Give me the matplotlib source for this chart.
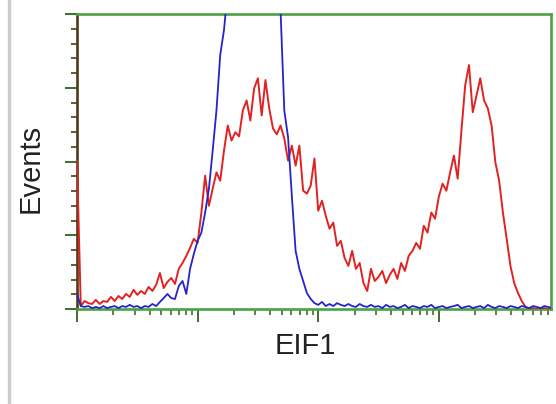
"""Flow cytometry overlay histogram: EIF1 stained (red) vs control (blue)."""
import matplotlib
matplotlib.use("Agg")
import matplotlib.pyplot as plt  # noqa: E402
import numpy as np  # noqa: E402
from matplotlib.lines import Line2D  # noqa: E402
from matplotlib.ticker import MultipleLocator, LogLocator, NullFormatter  # noqa: E402

# histogram bins: 8 channels each, 256 channels per decade
CHANNELS_PER_DECADE = 256
BIN_WIDTH = 8

red_counts = [
    50.3, 1.0, 2.7, 2.0, 1.7, 3.1, 1.7, 2.7, 2.4, 4.1,
    2.7, 4.4, 3.4, 5.1, 4.1, 6.5, 4.8, 6.1, 5.1, 7.5,
    6.1, 8.2, 12.2, 7.1, 9.2, 10.5, 8.5, 13.6, 15.6, 18.0,
    20.7, 23.8, 22.4, 32.7, 45.2, 35.0, 40.8, 46.3, 43.5, 53.7,
    62.2, 57.1, 59.9, 58.5, 67.3, 70.7, 63.9, 74.8, 78.2, 65.6,
    77.6, 68.0, 61.2, 59.2, 62.2, 57.8, 50.3, 55.4, 48.6, 55.4,
    40.1, 39.1, 41.8, 51.0, 33.3, 36.7, 31.6, 27.2, 29.3, 21.4,
    23.1, 17.3, 14.6, 19.7, 13.6, 15.6, 8.8, 6.1, 13.6, 9.5,
    10.9, 12.9, 8.8, 11.6, 13.6, 10.2, 15.6, 12.9, 18.0, 19.7,
    22.4, 20.4, 28.2, 25.9, 32.7, 30.6, 38.1, 42.5, 40.1, 46.3,
    52.0, 44.2, 60.5, 75.9, 82.7, 66.7, 72.4, 78.2, 70.7, 68.0,
    62.2, 49.7, 43.5, 32.7, 23.8, 14.6, 8.8, 5.4, 2.7, 0.7,
    0.0, 0.3, 0.0, 0.0, 0.3, 0.0, 0.0,
]

blue_counts = [
    5.1, 1.0, 0.7, 1.0, 0.3, 0.7, 0.3, 1.0, 0.3, 0.7,
    1.0, 0.3, 1.0, 0.7, 1.4, 0.7, 1.0, 0.3, 1.0, 0.7,
    1.7, 1.0, 2.4, 3.7, 5.1, 3.7, 3.4, 7.8, 9.5, 5.1,
    13.6, 18.7, 23.1, 25.9, 32.7, 40.8, 53.7, 67.3, 86.1, 94.6,
    108.2, 115.0, 120.1, 123.5, 125.2, 125.9, 124.5, 123.5, 121.8, 120.1,
    118.4, 115.0, 111.6, 106.5, 101.4, 67.3, 58.2, 38.4, 19.7, 13.6,
    9.5, 5.4, 3.4, 2.0, 1.4, 2.4, 1.0, 1.7, 1.0, 2.0,
    1.4, 1.0, 1.7, 1.0, 0.7, 1.7, 1.0, 0.7, 1.4, 0.7,
    1.0, 0.3, 1.4, 0.7, 1.0, 0.3, 0.7, 1.4, 0.3, 1.0,
    0.7, 0.3, 1.0, 0.7, 1.4, 0.3, 0.7, 1.0, 0.3, 0.7,
    1.0, 1.4, 0.3, 0.7, 1.0, 0.3, 0.7, 1.0, 0.3, 1.4,
    0.7, 0.3, 1.0, 0.7, 0.3, 1.0, 0.7, 0.3, 1.0, 0.7,
    0.3, 1.0, 0.7, 0.3, 1.0, 0.7, 0.3,
]

x_label = "EIF1"
y_label = "Events"

GREEN = "#4aa244"
TICK_GREEN = "#3d6e2e"
OLIVE = "#4e3d14"

fluor = 10 ** (np.arange(len(red_counts)) * BIN_WIDTH / CHANNELS_PER_DECADE)

fig = plt.figure(figsize=(5.56, 4.04), dpi=100)
ax = fig.add_axes([77 / 556, 1 - 309 / 404, 474 / 556, 295 / 404])

ax.plot(fluor, red_counts, color="#e02222", lw=1.4, zorder=3)
ax.plot(fluor, blue_counts, color="#2424c8", lw=1.3, zorder=4)

ax.set_xscale("log")
ax.set_xlim(1, 10 ** 3.93)
ax.set_ylim(0, 100)

for side in ("top", "bottom", "right"):
    ax.spines[side].set_color(GREEN)
    ax.spines[side].set_linewidth(1.9)
ax.spines["left"].set_color(OLIVE)
ax.spines["left"].set_linewidth(1.9)
for s in ax.spines.values():
    s.set_zorder(2)

ax.yaxis.set_major_locator(MultipleLocator(25))
ax.yaxis.set_minor_locator(MultipleLocator(5))
ax.xaxis.set_major_locator(LogLocator(base=10, numticks=10))
ax.xaxis.set_minor_locator(LogLocator(base=10, subs=np.arange(2, 10), numticks=10))
ax.xaxis.set_major_formatter(NullFormatter())
ax.xaxis.set_minor_formatter(NullFormatter())
ax.yaxis.set_major_formatter(NullFormatter())

ax.tick_params(axis="x", which="major", direction="out", length=9, width=1.4, color=TICK_GREEN)
ax.tick_params(axis="x", which="minor", direction="out", length=4, width=1.2, color=TICK_GREEN)
ax.tick_params(axis="y", which="major", direction="out", length=9, width=1.4, color=TICK_GREEN)
ax.tick_params(axis="y", which="minor", direction="out", length=4, width=1.2, color=OLIVE)

fig.text(305 / 556, 1 - 346 / 404, x_label, ha="center", va="center",
         fontsize=21, family="Liberation Sans", color="#222222")
fig.text(31 / 556, 1 - 168 / 404, y_label, ha="center", va="center", rotation=90,
         fontsize=21, family="Liberation Sans", color="#222222")

# grey frame line at the far left of the panel
fig.add_artist(Line2D([8.5 / 556, 8.5 / 556], [0, 1], color="#cccccc", lw=2.4))

fig.savefig("out.png", dpi=100)
plt.close(fig)
